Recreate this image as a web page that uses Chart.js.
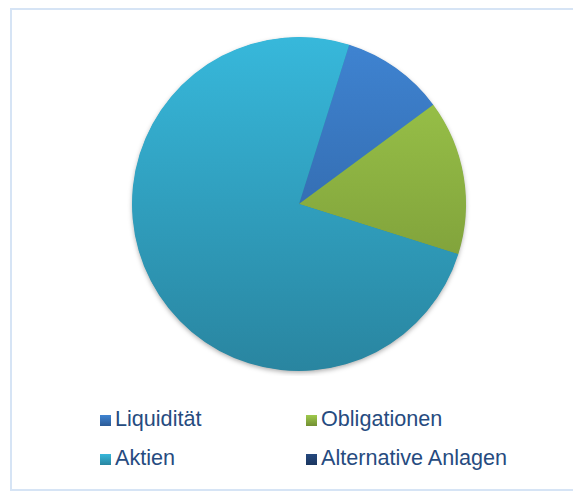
<!DOCTYPE html>
<html>
<head>
<meta charset="utf-8">
<script src="https://cdn.jsdelivr.net/npm/chart.js@4/dist/chart.umd.min.js"></script>
<style>
  html, body { margin: 0; padding: 0; background: #ffffff; }
  body { width: 573px; height: 491px; position: relative; overflow: hidden; font-family: "Liberation Sans", Arial, sans-serif; }
  #frame { position: absolute; left: 10px; top: 8px; width: 580px; height: 479px; border: 2px solid #d6e4f5; box-sizing: content-box; }
  #wrap { position: absolute; left: 127px; top: 32px; width: 344px; height: 344px; }
  .lg { position: absolute; font-size: 21.6px; color: #264b80; line-height: 1; white-space: nowrap; }
  .sw { position: absolute; width: 11px; height: 11px; }
</style>
</head>
<body>
<div id="frame"></div>
<div id="wrap"><canvas id="c"></canvas></div>
<div id="legend"></div>
<script>
const categories = ["Liquidität", "Obligationen", "Aktien", "Alternative Anlagen"];
const shares = [10, 15, 75, 0];
const topColors = ["#3f84d2", "#9fca4c", "#37b8db", "#25497f"];
const bottomColors = ["#2b5a96", "#728f33", "#2985a0", "#1b365f"];

function grad(ctx, chartArea, i) {
  const g = ctx.createLinearGradient(0, chartArea.top, 0, chartArea.bottom);
  g.addColorStop(0, topColors[i]);
  g.addColorStop(1, bottomColors[i]);
  return g;
}

const shadowPlugin = {
  id: 'pieShadow',
  beforeDatasetsDraw(chart) {
    const arcs = chart.getDatasetMeta(0).data;
    if (!arcs.length) return;
    const a = arcs[0];
    const ctx = chart.ctx;
    ctx.save();
    ctx.shadowColor = 'rgba(0,0,0,0.35)';
    ctx.shadowBlur = 5;
    ctx.shadowOffsetY = 2;
    ctx.fillStyle = '#2a8aa6';
    ctx.beginPath();
    ctx.arc(a.x, a.y, a.outerRadius - 0.5, 0, Math.PI * 2);
    ctx.fill();
    ctx.restore();
  }
};

new Chart(document.getElementById('c'), {
  type: 'pie',
  data: {
    labels: categories,
    datasets: [{
      data: shares,
      backgroundColor: (context) => {
        const ca = context.chart.chartArea;
        if (!ca) return topColors[context.dataIndex];
        return grad(context.chart.ctx, ca, context.dataIndex);
      },
      borderWidth: 0
    }]
  },
  options: {
    responsive: true,
    maintainAspectRatio: false,
    animation: false,
    rotation: 17.5,
    layout: { padding: 5 },
    plugins: { legend: { display: false }, tooltip: { enabled: false } }
  },
  plugins: [shadowPlugin]
});

// legend (two columns, two rows)
const legend = document.getElementById('legend');
const colX = [100, 306];
const rowY = [415, 454];
categories.forEach((name, i) => {
  const col = i % 2, row = Math.floor(i / 2);
  const sw = document.createElement('div');
  sw.className = 'sw';
  sw.style.left = colX[col] + 'px';
  sw.style.top = rowY[row] + 'px';
  sw.style.background = 'linear-gradient(' + topColors[i] + ',' + bottomColors[i] + ')';
  legend.appendChild(sw);
  const t = document.createElement('div');
  t.className = 'lg';
  t.textContent = name;
  t.style.left = (colX[col] + 15) + 'px';
  t.style.top = (rowY[row] - 7.5) + 'px';
  legend.appendChild(t);
});
</script>
</body>
</html>
